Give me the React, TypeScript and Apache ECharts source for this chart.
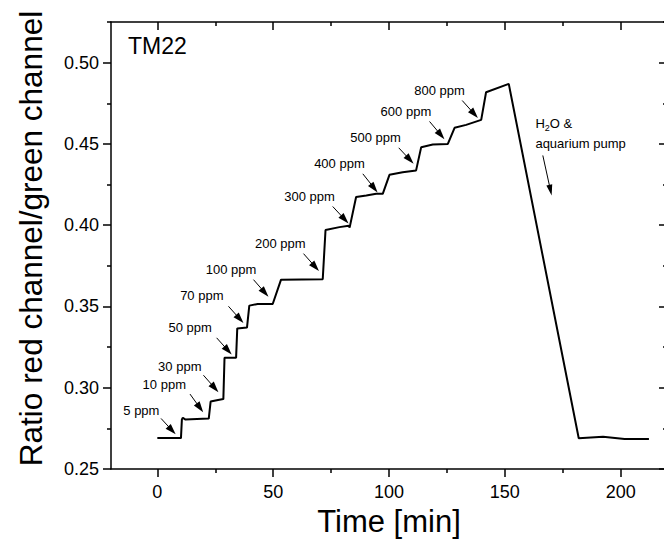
import React, { useEffect, useRef } from "react";
import * as echarts from "echarts";

// ---- data ----
const timeMin = [
  0, 10.2, 10.6, 11.0, 12.0, 22.2, 23.0, 26.2, 28.5, 29.0, 34.0, 34.5, 38.7, 39.7,
  43.3, 49.8, 53.4, 71.4, 72.6, 78.6, 82.6, 83.0, 85.8, 90.2, 94.5, 97.3, 100.2,
  105.9, 111.7, 113.9, 118.9, 125.4, 128.3, 133.3, 139.8, 141.9, 151.7, 181.9,
  192.4, 201.7, 212.2,
];
const ratio = [
  0.269, 0.269, 0.2805, 0.2815, 0.2805, 0.281, 0.2915, 0.2925, 0.293, 0.3185,
  0.3185, 0.3365, 0.337, 0.3505, 0.3515, 0.3515, 0.3665, 0.3668, 0.397, 0.3988,
  0.3997, 0.3985, 0.4173, 0.4183, 0.4193, 0.4193, 0.431, 0.4326, 0.4337, 0.448,
  0.4496, 0.45, 0.4599, 0.4617, 0.4648, 0.4818, 0.4869, 0.2689, 0.2698, 0.2684,
  0.2684,
];

const xMajor = [0, 50, 100, 150, 200];
const xMinor = [25, 75, 125, 175];
const yMajor = [0.25, 0.3, 0.35, 0.4, 0.45, 0.5];
const yMinor = [0.275, 0.325, 0.375, 0.425, 0.475, 0.525];

// concentration annotations (label centre, arrow start, arrow end) in data units
const ppmLabels = ["5 ppm", "10 ppm", "30 ppm", "50 ppm", "70 ppm", "100 ppm", "200 ppm", "300 ppm", "400 ppm", "500 ppm", "600 ppm", "800 ppm"];
const ppmLabelT = [-6.9, 3.0, 9.7, 14.2, 19.2, 31.8, 53.1, 65.7, 78.6, 94.2, 107.3, 121.8];
const ppmLabelV = [0.2862, 0.3022, 0.3128, 0.3372, 0.3569, 0.3727, 0.3886, 0.4177, 0.4378, 0.4537, 0.4699, 0.4828];

const pumpLabels = ["{n|H}{s|2}{n|O &}", "aquarium pump"];
const pumpLabelT = [163.2, 163.2];
const pumpLabelV = [0.4627, 0.4504];

const arrowFromT = [1.6, 14.1, 19.9, 25.6, 30.7, 41.5, 63.1, 75.7, 88.7, 104.2, 117.5, 131.6, 166.4];
const arrowFromV = [0.2811, 0.2961, 0.3077, 0.3307, 0.3501, 0.3665, 0.3825, 0.4115, 0.4316, 0.4476, 0.4638, 0.4767, 0.4429];
const arrowToT = [6.3, 18.4, 24.8, 30.5, 35.6, 46.4, 68.2, 80.9, 93.6, 109.0, 122.4, 136.8, 169.7];
const arrowToV = [0.2738, 0.2876, 0.2998, 0.3229, 0.3423, 0.3585, 0.3743, 0.4035, 0.4228, 0.4403, 0.4555, 0.4684, 0.4215];

const FONT = '"Liberation Sans", Arial, Helvetica, sans-serif';
const BLACK = "#000";

function xAx(extra: any) {
  return {
    type: "value",
    min: -20,
    max: 220,
    gridIndex: 0,
    splitLine: { show: false },
    axisLine: { show: false, onZero: false, lineStyle: { color: BLACK, width: 1.5 } },
    axisLabel: { show: false },
    ...extra,
  };
}
function yAx(extra: any) {
  return {
    type: "value",
    min: 0.25,
    max: 0.525,
    gridIndex: 0,
    splitLine: { show: false },
    axisLine: { show: false, onZero: false, lineStyle: { color: BLACK, width: 1.5 } },
    axisLabel: { show: false },
    ...extra,
  };
}

export default function App() {
  const ref = useRef<HTMLDivElement>(null);
  useEffect(() => {
    if (!ref.current) return;
    const chart = echarts.init(ref.current, undefined, { renderer: "svg" });
    const tickStyle = { color: BLACK, width: 1.5 };
    const baseLabel = {
      show: true,
      color: BLACK,
      opacity: 1,
      fontSize: 13,
      fontFamily: FONT,
      textBorderWidth: 0,
    };
    const labelItems = [
      ...ppmLabels.map((t, i) => ({
        value: [ppmLabelT[i], ppmLabelV[i]],
        label: { ...baseLabel, formatter: t, position: "inside" },
      })),
      ...pumpLabels.map((t, i) => ({
        value: [pumpLabelT[i], pumpLabelV[i]],
        label: {
          ...baseLabel,
          formatter: t,
          position: "right",
          distance: 0,
          align: "left",
          rich: {
            n: { fontSize: 13, lineHeight: 18, color: BLACK, fontFamily: FONT },
            s: { fontSize: 9, lineHeight: 9, verticalAlign: "bottom", color: BLACK, fontFamily: FONT },
          },
        },
      })),
    ];
    const arrows = arrowFromT.map((_, i) => [
      { coord: [arrowFromT[i], arrowFromV[i]], symbol: "none", symbolSize: 1 },
      {
        coord: [arrowToT[i], arrowToV[i]],
        symbol: "triangle",
        symbolSize: i === arrowFromT.length - 1 ? [6, 11] : [7, 11],
        itemStyle: { color: BLACK },
      },
    ]);
    chart.setOption({
      animation: false,
      backgroundColor: "#fff",
      textStyle: { fontFamily: FONT },
      grid: { left: 111, top: 22, right: -3, bottom: 79, containLabel: false, outerBoundsMode: "none" },
      xAxis: [
        xAx({
          position: "bottom",
          axisLine: { show: true, onZero: false, lineStyle: { color: BLACK, width: 1.5 } },
          axisTick: { show: true, inside: false, length: 8, customValues: xMajor, lineStyle: tickStyle },
          axisLabel: { show: true, customValues: xMajor, fontSize: 18, color: BLACK, margin: 14, fontFamily: FONT },
          name: "Time [min]",
          nameLocation: "middle",
          nameGap: 37,
          nameTextStyle: { fontSize: 31, color: BLACK, fontFamily: FONT },
        }),
        xAx({ position: "bottom", axisTick: { show: true, inside: false, length: 4, customValues: xMinor, lineStyle: tickStyle } }),
        xAx({
          position: "top",
          axisLine: { show: true, onZero: false, lineStyle: { color: BLACK, width: 1.5 } },
          axisTick: { show: true, inside: true, length: 8, customValues: xMajor, lineStyle: tickStyle },
        }),
        xAx({ position: "top", axisTick: { show: true, inside: true, length: 4, customValues: xMinor, lineStyle: tickStyle } }),
      ],
      yAxis: [
        yAx({
          position: "left",
          axisLine: { show: true, onZero: false, lineStyle: { color: BLACK, width: 1.5 } },
          axisTick: { show: true, inside: false, length: 8, customValues: yMajor, lineStyle: tickStyle },
          axisLabel: {
            show: true,
            customValues: yMajor,
            formatter: (v: number) => v.toFixed(2),
            fontSize: 18,
            color: BLACK,
            margin: 12,
            fontFamily: FONT,
          },
          name: "Ratio red channel/green channel",
          nameLocation: "middle",
          nameGap: 64,
          nameTextStyle: { fontSize: 31.5, color: BLACK, fontFamily: FONT, padding: [0, 0, 0, 14] },
        }),
        yAx({ position: "left", axisTick: { show: true, inside: false, length: 4, customValues: yMinor, lineStyle: tickStyle } }),
        yAx({
          position: "right",
          axisLine: { show: true, onZero: false, lineStyle: { color: BLACK, width: 1.5 } },
          axisTick: { show: true, inside: true, length: 8, customValues: yMajor, lineStyle: tickStyle },
        }),
        yAx({ position: "right", axisTick: { show: true, inside: true, length: 4, customValues: yMinor, lineStyle: tickStyle } }),
      ],
      graphic: [
        {
          type: "text",
          left: 128,
          top: 34,
          style: { text: "TM22", fontSize: 23, fill: BLACK, fontFamily: FONT },
        },
      ],
      series: [
        {
          type: "line",
          xAxisIndex: 0,
          yAxisIndex: 0,
          data: timeMin.map((t, i) => [t, ratio[i]]),
          showSymbol: false,
          symbol: "none",
          lineStyle: { color: BLACK, width: 2 },
          silent: true,
          z: 3,
        },
        {
          type: "scatter",
          xAxisIndex: 0,
          yAxisIndex: 0,
          symbolSize: 0,
          silent: true,
          z: 4,
          label: baseLabel,
          emphasis: { disabled: true },
          data: labelItems,
          markLine: {
            silent: true,
            animation: false,
            symbol: ["none", "triangle"],
            symbolSize: 9,
            lineStyle: { color: BLACK, width: 1, type: "solid" },
            itemStyle: { color: BLACK },
            label: { show: false },
            emphasis: { disabled: true },
            data: arrows,
          },
        },
      ],
    });
    return () => chart.dispose();
  }, []);
  return (
    <div
      ref={ref}
      style={{ position: "fixed", left: 0, top: 0, width: 664, height: 548, background: "#fff" }}
    />
  );
}
